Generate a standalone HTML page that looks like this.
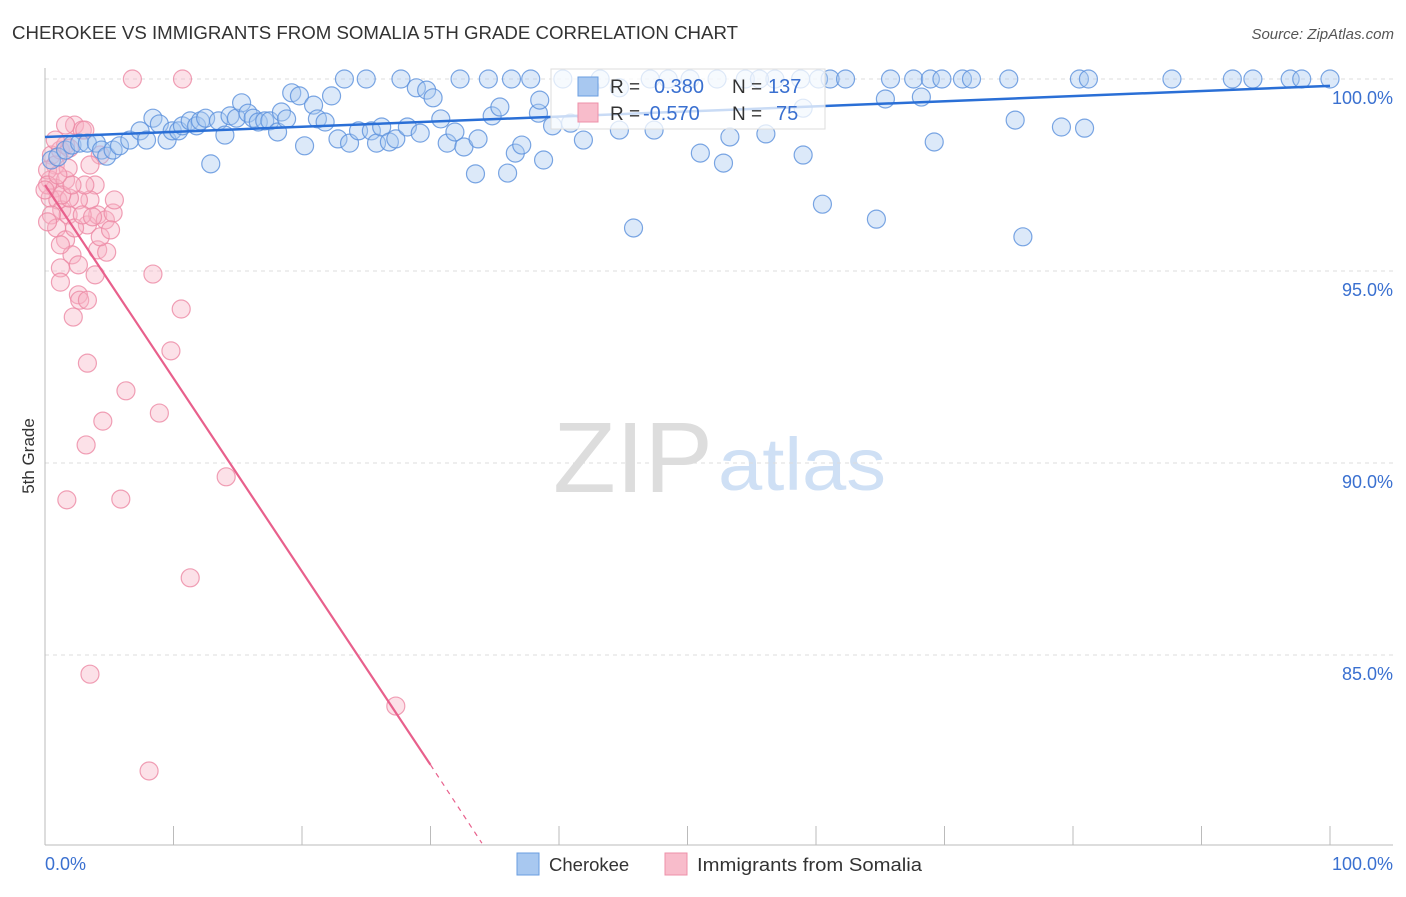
<!DOCTYPE html>
<html><head><meta charset="utf-8"><style>
body{margin:0;background:#fff;font-family:"Liberation Sans",sans-serif}
svg text{font-family:"Liberation Sans",sans-serif}
</style></head><body>
<svg id="c" width="1406" height="892" xmlns="http://www.w3.org/2000/svg">
<text x="12" y="39" font-size="18" fill="#333" textLength="726" lengthAdjust="spacingAndGlyphs">CHEROKEE VS IMMIGRANTS FROM SOMALIA 5TH GRADE CORRELATION CHART</text>
<text x="1394" y="39" font-size="15" fill="#555" text-anchor="end" font-style="italic">Source: ZipAtlas.com</text>
<text x="34" y="456" font-size="17" fill="#333" text-anchor="middle" transform="rotate(-90 34 456)">5th Grade</text>
<text x="553" y="492" font-size="100" fill="#ddd" font-family="Liberation Serif" textLength="160" lengthAdjust="spacingAndGlyphs">ZIP</text>
<text x="718" y="490" font-size="74" fill="#cfe0f5" textLength="168" lengthAdjust="spacingAndGlyphs">atlas</text>
<g id="grid"></g><g id="axes"></g><g id="pink"></g><g id="blue"></g><g id="trend"></g>
<g>
<rect x="551" y="69" width="274" height="60" fill="#fff" fill-opacity="0.75" stroke="#ddd"/>
<rect x="578" y="77" width="20" height="19" fill="#a8c8f0" stroke="#6a9ee0"/>
<rect x="578" y="103" width="20" height="19" fill="#f8bccb" stroke="#ee90a8"/>
<text x="610" y="93" font-size="19" fill="#333">R =</text>
<text x="654" y="93" font-size="20" fill="#3a70d0">0.380</text>
<text x="732" y="93" font-size="19" fill="#333">N =</text>
<text x="768" y="93" font-size="20" fill="#3a70d0">137</text>
<text x="610" y="120" font-size="19" fill="#333">R =</text>
<text x="643" y="120" font-size="20" fill="#3a70d0">-0.570</text>
<text x="732" y="120" font-size="19" fill="#333">N =</text>
<text x="776" y="120" font-size="20" fill="#3a70d0">75</text>
</g>
<g>
<rect x="517" y="853" width="22" height="22" fill="#a8c8f0" stroke="#6a9ee0"/>
<text x="549" y="871" font-size="18.5" fill="#333">Cherokee</text>
<rect x="665" y="853" width="22" height="22" fill="#f8bccb" stroke="#ee90a8"/>
<text x="697" y="871" font-size="18.5" fill="#333" textLength="225" lengthAdjust="spacingAndGlyphs">Immigrants from Somalia</text>
</g>
</svg>
<script>
const yTicks=[100,95,90,85];
const yTickLabels=["100.0%","95.0%","90.0%","85.0%"];
const xTickValues=[0,10,20,30,40,50,60,70,80,90,100];
const xEndLabels=["0.0%","100.0%"];
const blueX=[0.5,1.0,1.6,2.1,2.7,3.3,4.0,4.4,4.8,5.3,5.8,6.6,7.4,7.9,8.4,8.9,9.5,9.9,10.4,10.7,11.3,11.8,12.1,12.5,12.9,13.5,14.0,14.4,14.9,15.3,15.8,16.2,16.6,17.1,17.5,18.1,18.4,18.8,19.2,19.8,20.2,20.9,21.2,21.8,22.3,22.8,23.3,23.7,24.4,25.0,25.4,25.8,26.2,26.8,27.3,27.7,28.2,28.9,29.2,29.7,30.2,30.8,31.3,31.9,32.3,32.6,33.5,33.7,34.5,34.8,35.4,36.0,36.3,36.6,37.1,37.8,38.4,38.8,39.5,40.3,41.9,43.2,45.8,47.4,48.5,51.0,52.3,52.8,53.3,54.5,56.1,56.8,59.0,59.0,60.2,60.5,61.1,62.3,64.7,65.4,65.8,67.6,68.2,68.9,69.2,69.8,71.4,72.1,75.0,75.5,76.1,79.1,80.5,80.9,81.2,87.7,92.4,94.0,96.9,97.8,100,42.4,44.7,47.1,50.2,55.6,58.8,40.9,44.7,38.5];
const blueY=[97.89,97.97,98.15,98.28,98.33,98.33,98.33,98.15,97.99,98.15,98.26,98.41,98.65,98.41,98.98,98.83,98.41,98.65,98.65,98.78,98.91,98.78,98.91,98.98,97.79,98.91,98.54,99.04,98.98,99.38,99.11,98.98,98.88,98.91,98.91,98.62,99.14,98.96,99.64,99.56,98.26,99.32,98.96,98.88,99.56,98.44,100,98.33,98.65,100,98.65,98.33,98.75,98.36,98.44,100,98.75,99.77,98.59,99.71,99.51,98.96,98.33,98.62,100,98.23,97.53,98.44,100,99.04,99.27,97.55,100,98.07,98.28,100,99.11,97.89,98.78,100,98.41,100,96.12,98.67,100,98.07,100,97.81,98.49,100,98.57,100,98.02,99.24,100,96.74,100,100,96.35,99.48,100,100,99.53,100,98.36,100,100,100,100,98.93,95.89,98.75,100,98.72,100,100,100,100,100,100,100,99.79,99.77,100,100,100,100,98.85,98.67,99.45];
const pinkX=[6.8,10.7,0.5,0.8,1.2,1.6,1.9,2.3,2.9,0.4,0.8,0.4,1.0,1.3,1.8,0.5,0.9,1.6,2.1,1.2,1.2,1.2,2.6,2.6,2.7,3.3,3.9,3.9,3.5,3.3,4.1,4.7,4.1,4.8,5.3,5.4,4.3,2.2,3.3,8.4,10.6,9.8,6.3,4.5,8.9,3.2,1.7,5.9,14.1,11.3,3.5,27.3,8.1,2.6,1.6,1.9,2.3,3.1,1.8,4.3,0.2,0.2,0.2,1.3,2.9,3.7,0.8,5.1,2.1,1.0,0,3.1,1.6,3.5];
const pinkY=[100,100,98.02,97.76,98.15,98.28,98.2,98.8,98.67,97.37,97.16,96.9,96.85,96.59,96.46,96.46,96.12,95.81,95.42,95.68,95.08,94.71,95.16,94.38,94.24,94.24,94.9,97.24,96.85,96.2,96.46,96.33,95.55,95.49,96.51,96.85,95.89,93.8,92.6,94.92,94.01,92.92,91.88,91.09,91.3,90.47,89.04,89.06,89.64,87.01,84.5,83.67,81.98,96.85,97.37,96.9,96.12,97.24,97.68,98.02,97.63,97.24,96.28,96.98,96.46,96.41,98.41,96.07,97.24,97.5,97.11,98.67,98.8,97.76];
const blueTrend=[[0,98.49],[100,99.82]];
const pinkTrend=[[0,97.24],[30,82.14]];
const pinkTrendDash=[[30,82.14],[34,80.1]];

const X0=45,X1=1330,Y100=79,PXPER=38.4;
const sx=v=>X0+(X1-X0)*v/100;
const sy=v=>Y100+(100-v)*PXPER;
const NS="http://www.w3.org/2000/svg";
function mk(tag,parent,attrs){const e=document.createElementNS(NS,tag);for(const k in attrs)e.setAttribute(k,attrs[k]);parent.appendChild(e);return e;}
const grid=document.getElementById('grid'),axes=document.getElementById('axes');
yTicks.forEach((t,i)=>{
 const l=mk('line',grid,{x1:X0,x2:1393,y1:sy(t),y2:sy(t),stroke:'#ddd','stroke-dasharray':'4,4'});
 
 
 const tx=mk('text',grid,{x:1393,y:sy(t)+25,'font-size':18,fill:'#3a70d0','text-anchor':'end'});
 tx.textContent=yTickLabels[i];
 
 
});
const ya=mk('line',axes,{x1:X0,x2:X0,y1:68,y2:845,stroke:'#bbb'});


const xa=mk('line',axes,{x1:X0,x2:1393,y1:845,y2:845,stroke:'#bbb'});


xTickValues.forEach(v=>{
 const t=mk('line',axes,{x1:sx(v),x2:sx(v),y1:826,y2:845,stroke:'#bbb'});
 
 
});
[[0,'start',45],[1,'end',1393]].forEach(([i,a,x])=>{
 const t=mk('text',axes,{x:x,y:870,'font-size':18,fill:'#3a70d0','text-anchor':a});
 t.textContent=xEndLabels[i];
 
 
});
function pts(g,xs,ys,fill,stroke,name){
 const G=document.getElementById(g);
 xs.forEach((x,i)=>{
  const c=mk('circle',G,{cx:sx(x),cy:sy(ys[i]),r:9,fill:fill,'fill-opacity':0.4,stroke:stroke,'stroke-opacity':0.8,'stroke-width':1.2});
  
  
 });
}
pts('pink',pinkX,pinkY,'#f8b4c6','#ec88a4','somalia-point');
pts('blue',blueX,blueY,'#a8c8f0','#5a90dc','cherokee-point');
const tr=document.getElementById('trend');
const bl=mk('line',tr,{x1:sx(blueTrend[0][0]),y1:sy(blueTrend[0][1]),x2:sx(blueTrend[1][0]),y2:sy(blueTrend[1][1]),stroke:'#2a6fd6','stroke-width':2.5});


const pl=mk('line',tr,{x1:sx(pinkTrend[0][0]),y1:sy(pinkTrend[0][1]),x2:sx(pinkTrend[1][0]),y2:sy(pinkTrend[1][1]),stroke:'#e8608c','stroke-width':2.2});


const pd=mk('line',tr,{x1:sx(pinkTrendDash[0][0]),y1:sy(pinkTrendDash[0][1]),x2:sx(pinkTrendDash[1][0]),y2:sy(pinkTrendDash[1][1]),stroke:'#e8608c','stroke-width':1.2,'stroke-dasharray':'5,5'});


</script>
</body></html>
